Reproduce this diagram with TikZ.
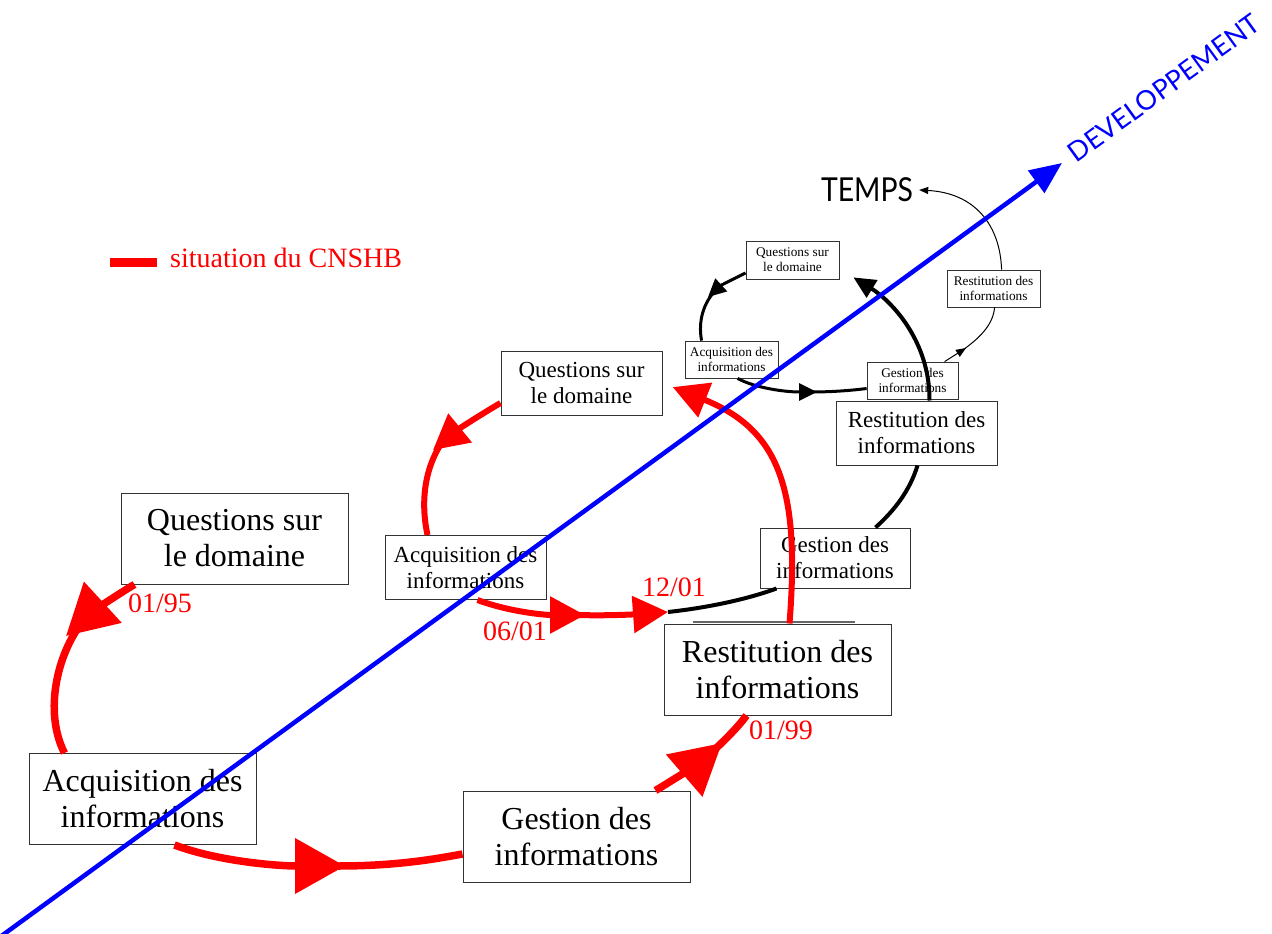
\documentclass[tikz,border=0pt]{standalone}
\usepackage{fontspec}
\setmainfont{Liberation Serif}
\newfontfamily\gothic{Lato}
\newfontfamily\gothicn{Lato}[FakeStretch=0.86]
\usetikzlibrary{arrows.meta}
\begin{document}
\begin{tikzpicture}[x=1pt,y=-1pt,
  box/.style={draw=black!80, line width=1pt, fill=white, inner sep=0pt, align=center},
  bigbox/.style={box, minimum width=227pt, minimum height=91pt, font=\fontsize{32}{36}\selectfont},
  medbox/.style={box, minimum width=161pt, minimum height=64pt, font=\fontsize{23}{26}\selectfont},
  smallbox/.style={box, line width=0.8pt, minimum width=93pt, minimum height=37pt, font=\fontsize{13.3}{15}\selectfont},
  redbig/.style={draw=red, line width=7.5pt},
  redmed/.style={draw=red, line width=6pt},
  blackmed/.style={draw=black, line width=4pt},
  blacksmall/.style={draw=black, line width=3pt},
  blackthin/.style={draw=black, line width=1pt},
  bigtip/.style={-{Triangle[length=50pt,width=54pt]}},
  medtip/.style={-{Triangle[length=35pt,width=36pt]}},
  mtip/.style={-{Triangle[length=22pt,width=20pt]}},
  stip/.style={-{Triangle[length=18pt,width=17pt]}},
  ttip/.style={-{Triangle[length=10pt,width=8pt]}},
  date/.style={text=red, font=\fontsize{28}{30}\selectfont, inner sep=0pt}
]
\useasboundingbox (0,0) rectangle (1272,934);

% legend
\fill[red] (110,258) rectangle (157,267);
\node[anchor=west, text=red, font=\fontsize{28}{30}\selectfont, inner sep=0pt] (legend) at (170,258) {situation du CNSHB};

% boxes - big loop
\node[bigbox] (Q1) at (234.5,538.5) {Questions sur\\le domaine};
\node[bigbox] (A1) at (142.5,799) {Acquisition des\\informations};
\node[bigbox] (G1) at (576.5,836.5) {Gestion des\\informations};
\draw[black!60, line width=1.5pt] (693,622) -- (855,622);
\node[bigbox] (R1) at (777.5,669.5) {Restitution des\\informations};

% boxes - medium loop
\node[medbox] (Q2) at (581.5,383) {Questions sur\\le domaine};
\node[medbox] (A2) at (465.5,567.5) {Acquisition des\\informations};
\node[medbox, minimum width=150pt, minimum height=60pt] (G2) at (835,558) {Gestion des\\informations};
\node[medbox] (R2) at (916.5,433) {Restitution des\\informations};

% boxes - small loop
\node[smallbox, minimum height=38pt] (Q3) at (792.5,260) {Questions sur\\le domaine};
\node[smallbox] (A3) at (731.5,359.5) {Acquisition des\\informations};
\node[smallbox, minimum width=91pt] (G3) at (912.5,380.5) {Gestion des\\informations};
\node[smallbox] (R3) at (993.5,288.5) {Restitution des\\informations};

\node[font=\gothicn\fontsize{33}{36}\selectfont, inner sep=0pt] (temps) at (867,190) {TEMPS};

% arrow-tip coordinates
\coordinate (t1) at (66,636);
\coordinate (m1) at (80,625);
\coordinate (t2) at (345,866);
\coordinate (m2) at (338,866);
\coordinate (t3) at (722,743);
\coordinate (m3) at (712,752);
\coordinate (t5) at (433,450);
\coordinate (m5) at (445,438);
\coordinate (t6) at (585,615);
\coordinate (m6) at (578,615);
\coordinate (t7) at (668,612);
\coordinate (t10) at (708,297);
\coordinate (m10) at (716,290);
\coordinate (t11) at (817,392);
\coordinate (m11) at (810,392);
\coordinate (t12) at (966,348);
\coordinate (m12) at (960,352);

% big red loop
\draw[redbig, bigtip] ([xshift=14pt]Q1.south west) .. controls (118,594) and (90,614) .. (t1);
\draw[redbig] (m1) .. controls (55,660) and (45,715) .. ([xshift=36pt]A1.north west);
\draw[redbig, bigtip] ([xshift=146pt]A1.south west) .. controls (220,862) and (280,866) .. (t2);
\draw[redbig] (m2) .. controls (400,866) and (440,858) .. ([yshift=-17.5pt]G1.west);
\draw[redbig, bigtip] ([xshift=-35pt]G1.north east) .. controls (670,782) and (700,762) .. (t3);
\draw[redbig] (m3) .. controls (725,740) and (738,727) .. ([xshift=83pt]R1.south west);
\draw[redmed, medtip, shorten >=11pt] ([xshift=126pt]R1.north west) .. controls (800,490) and (780,430) .. (Q2.east);

% medium loop
\draw[redmed, medtip] ([yshift=-20pt]Q2.west) .. controls (485,412) and (460,428) .. (t5);
\draw[redmed] (m5) .. controls (425,465) and (420,500) .. ([xshift=43pt]A2.north west);
\draw[redmed, medtip] ([xshift=93pt]A2.south west) .. controls (510,612) and (545,615) .. (t6);
\draw[redmed, medtip] (m6) .. controls (610,616) and (640,614) .. (t7);
\draw[blackmed] (t7) .. controls (705,608) and (745,600) .. ([xshift=17pt]G2.south west);
\draw[blackmed] ([xshift=-35pt]G2.north east) .. controls (895,510) and (910,490) .. ([xshift=82pt]R2.south west);
\draw[blackmed, mtip] ([xshift=94pt]R2.north west) .. controls (930,340) and (890,300) .. ([xshift=14pt,yshift=2pt]Q3.south east);

% small loop
\draw[blacksmall, stip] ([yshift=-13pt]Q3.west) .. controls (735,278) and (720,286) .. (t10);
\draw[blacksmall] (m10) .. controls (703,303) and (698,322) .. ([xshift=17pt]A3.north west);
\draw[blacksmall, stip] ([xshift=53pt]A3.south west) .. controls (755,388) and (785,392) .. (t11);
\draw[blacksmall] (m11) .. controls (835,392) and (855,390) .. ([yshift=-8pt]G3.west);
\draw[blackthin, ttip] ([xshift=78pt]G3.north west) -- (t12);
\draw[blackthin] (m12) .. controls (980,338) and (993,325) .. ([xshift=48pt]R3.south west);
\draw[blackthin, -{Triangle[length=9pt,width=7pt]}] ([xshift=55pt]R3.north west) .. controls (1000,225) and (975,193) .. ([xshift=6pt]temps.east);

% dates
\node[date] (d95) at (160,603) {01/95};
\node[date] (d0601) at (515,631) {06/01};
\node[date] (d1201) at (674,587) {12/01};
\node[date] (d99) at (781,730) {01/99};

% axis
\coordinate (axstart) at (0,937);
\coordinate (axend) at (1062,163);
\draw[blue, line width=4.5pt, -{Triangle[length=32pt,width=27pt]}] (axstart) -- (axend);
\node[rotate=36, text=blue, font=\gothic\fontsize{27}{30}\selectfont, inner sep=0pt] (dev) at (1164,88) {DEVELOPPEMENT};
\end{tikzpicture}
\end{document}
